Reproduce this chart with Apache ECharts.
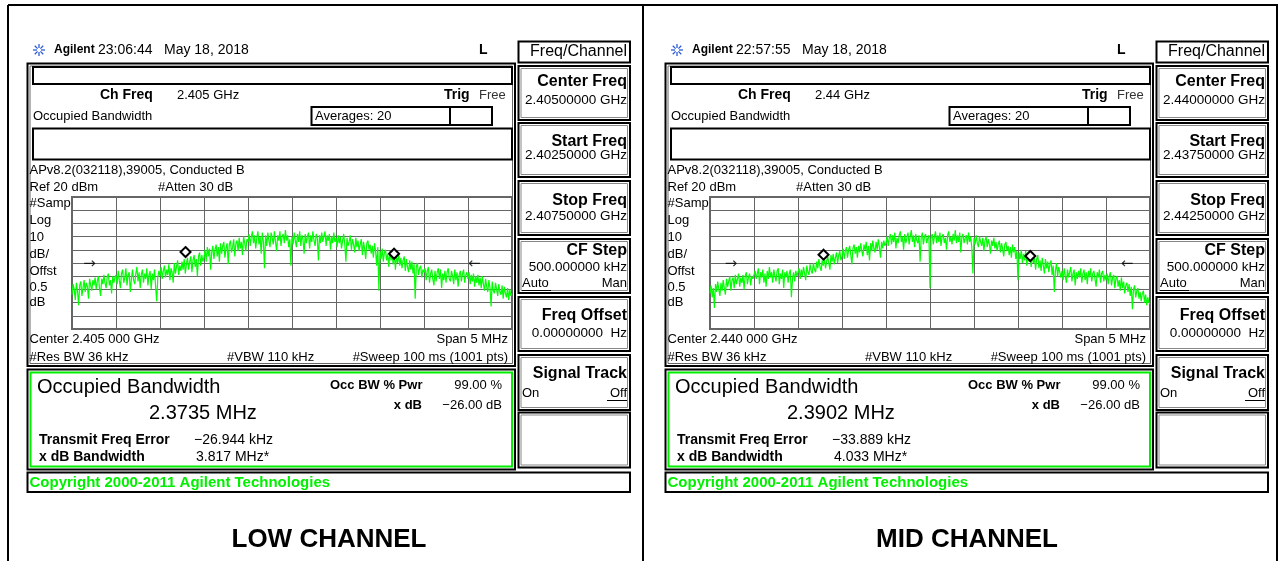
<!DOCTYPE html>
<html>
<head>
<meta charset="utf-8">
<title>Occupied Bandwidth - Low / Mid Channel</title>
<script src="https://cdn.jsdelivr.net/npm/echarts@6/dist/echarts.min.js"></script>
<style>
  html, body { margin: 0; padding: 0; background: #fff; }
  #main { width: 1283px; height: 561px; }
</style>
</head>
<body>
<div id="main"></div>
<script>
// offset from centre frequency in MHz, one point every 12.5 kHz over the 5 MHz span
const freqStart = -2.5;
const freqStep = 0.0125;

// trace levels in dBm (ref 20 dBm, 10 dB/div)
const lowTrace = [
  -54, -46, -50, -58, -45, -51, -62, -47, -44, -55,
  -49, -43, -52, -45, -48, -57, -42, -47, -51, -43,
  -47, -41, -50, -44, -40, -49, -55, -42, -46, -39,
  -45, -49, -41, -38, -47, -43, -53, -40, -45, -41,
  -39, -46, -36, -43, -49, -38, -35, -45, -41, -34,
  -47, -39, -37, -52, -42, -35, -43, -46, -38, -33,
  -44, -37, -49, -39, -35, -45, -38, -42, -34, -47,
  -39, -36, -50, -38, -43, -35, -48, -59, -41, -36,
  -40, -33, -42, -36, -32, -41, -35, -39, -31, -43,
  -34, -37, -45, -30, -38, -33, -28, -39, -32, -36,
  -29, -35, -27, -38, -31, -26, -35, -29, -25, -37,
  -28, -24, -33, -27, -40, -25, -22, -32, -24, -29,
  -26, -20, -29, -18, -25, -19, -35, -22, -17, -27,
  -20, -16, -25, -18, -29, -15, -23, -17, -14, -26,
  -19, -15, -31, -16, -13, -22, -18, -12, -25, -15,
  -13, -21, -11, -19, -14, -24, -10, -15, -21, -12,
  -14, -8, -17, -10, -6, -15, -9, -19, -11, -6,
  -16, -10, -23, -7, -14, -34, -9, -17, -7, -13,
  -18, -7, -11, -16, -6, -14, -21, -9, -13, -6,
  -17, -10, -8, -15, -5, -13, -9, -18, -12, -32,
  -10, -16, -7, -13, -18, -8, -14, -6, -17, -9,
  -12, -23, -8, -15, -10, -7, -19, -9, -14, -6,
  -13, -17, -8, -11, -28, -9, -15, -7, -14, -10,
  -6, -17, -9, -13, -8, -20, -10, -15, -7, -14,
  -11, -18, -9, -15, -10, -19, -13, -8, -16, -29,
  -11, -17, -14, -9, -20, -12, -16, -22, -11, -18,
  -13, -21, -16, -12, -24, -14, -19, -27, -15, -13,
  -20, -16, -23, -17, -26, -15, -21, -32, -18, -51,
  -21, -27, -19, -29, -22, -20, -28, -23, -33, -21,
  -28, -24, -31, -22, -35, -25, -30, -23, -32, -26,
  -34, -28, -25, -36, -27, -33, -37, -28, -35, -29,
  -38, -31, -57, -33, -30, -39, -34, -32, -41, -35,
  -37, -34, -43, -36, -33, -45, -38, -35, -42, -47,
  -36, -44, -37, -34, -42, -35, -49, -38, -43, -36,
  -45, -37, -34, -42, -44, -36, -40, -46, -35, -43,
  -37, -48, -39, -36, -44, -38, -35, -45, -39, -37,
  -42, -37, -46, -39, -44, -38, -48, -40, -45, -39,
  -47, -41, -49, -40, -46, -51, -42, -48, -52, -43,
  -49, -63, -44, -51, -53, -45, -50, -55, -46, -52,
  -54, -47, -57, -48, -53, -56, -49, -58, -50, -55,
  -53
];
const midTrace = [
  -53, -47, -56, -49, -64, -46, -52, -44, -50, -55,
  -45, -51, -43, -49, -54, -42, -48, -44, -40, -51,
  -43, -41, -49, -39, -46, -42, -38, -48, -41, -45,
  -39, -50, -40, -37, -46, -41, -38, -47, -40, -42,
  -43, -36, -42, -38, -34, -46, -37, -41, -35, -45,
  -38, -48, -36, -42, -33, -41, -37, -45, -35, -40,
  -44, -36, -34, -46, -38, -42, -35, -49, -37, -41,
  -36, -45, -38, -35, -56, -42, -37, -44, -36, -40,
  -39, -34, -42, -35, -40, -33, -38, -43, -32, -37,
  -39, -31, -36, -38, -30, -35, -37, -29, -34, -27,
  -33, -36, -28, -32, -26, -34, -29, -25, -30, -35,
  -24, -29, -23, -31, -26, -22, -30, -24, -21, -28,
  -25, -19, -27, -21, -18, -26, -20, -17, -24, -31,
  -19, -16, -23, -18, -26, -17, -22, -15, -21, -25,
  -16, -20, -14, -24, -17, -28, -15, -21, -13, -19,
  -22, -14, -20, -12, -18, -26, -14, -19, -13, -17,
  -15, -10, -17, -11, -8, -16, -9, -14, -7, -19,
  -11, -15, -9, -6, -14, -10, -20, -8, -15, -11,
  -7, -16, -10, -5, -14, -9, -18, -8, -13, -15,
  -9, -29, -11, -7, -16, -10, -8, -15, -11, -9,
  -49, -11, -8, -16, -10, -6, -15, -9, -14, -7,
  -17, -10, -8, -15, -11, -20, -9, -6, -14, -10,
  -16, -8, -13, -5, -15, -9, -14, -7, -22, -10,
  -8, -15, -11, -9, -16, -7, -14, -10, -18, -38,
  -11, -16, -9, -15, -18, -10, -14, -17, -11, -21,
  -13, -10, -18, -12, -16, -23, -13, -17, -11, -19,
  -14, -21, -16, -13, -22, -15, -19, -25, -16, -14,
  -21, -17, -24, -18, -26, -16, -22, -18, -27, -21,
  -43, -22, -27, -20, -30, -23, -28, -21, -32, -24,
  -29, -25, -33, -23, -30, -26, -35, -27, -24, -34,
  -28, -36, -26, -32, -38, -27, -34, -29, -37, -31,
  -28, -39, -32, -52, -36, -30, -40, -33, -37, -41,
  -36, -43, -34, -40, -45, -35, -41, -37, -33, -44,
  -38, -35, -47, -37, -42, -36, -41, -34, -45, -38,
  -35, -43, -37, -46, -36, -41, -34, -44, -38, -36,
  -42, -48, -37, -41, -35, -45, -38, -36, -44, -39,
  -43, -38, -46, -40, -37, -47, -41, -39, -49, -42,
  -40, -48, -43, -51, -41, -49, -44, -53, -47, -45,
  -52, -46, -55, -48, -65, -50, -47, -56, -51, -49,
  -57, -52, -59, -53, -51, -60, -54, -62, -56, -60,
  -61
];

// OBW edge markers and x dB arrows: [MHz offset, dBm]
const lowMarkers = [[-1.21, -21.7], [1.16, -23.0]];
const midMarkers = [[-1.21, -23.7], [1.14, -24.7]];
const lowArrows = [[-2.30, -30.5], [2.07, -30.5]];
const midArrows = [[-2.26, -30.5], [2.24, -30.5]];

const panels = [
  {
    ox: 0, time: '23:06:44', chFreq: '2.405 GHz',
    centerFreq: '2.40500000 GHz', startFreq: '2.40250000 GHz', stopFreq: '2.40750000 GHz',
    center: 'Center 2.405 000 GHz', obw: '2.3735 MHz', freqErr: '\u221226.944 kHz', xdbBw: '3.817 MHz*',
    title: 'LOW CHANNEL', trace: lowTrace, markers: lowMarkers, arrows: lowArrows
  },
  {
    ox: 638, time: '22:57:55', chFreq: '2.44 GHz',
    centerFreq: '2.44000000 GHz', startFreq: '2.43750000 GHz', stopFreq: '2.44250000 GHz',
    center: 'Center 2.440 000 GHz', obw: '2.3902 MHz', freqErr: '\u221233.889 kHz', xdbBw: '4.033 MHz*',
    title: 'MID CHANNEL', trace: midTrace, markers: midMarkers, arrows: midArrows
  }
];

const FONT = '"Liberation Sans", Arial, sans-serif';
const GREEN = '#00f000';

function txt(x, y, s, o) {
  o = o || {};
  return {
    type: 'text', x: x, y: y, z: 20, silent: true,
    style: {
      text: s,
      fill: o.color || '#000',
      font: (o.bold ? 'bold ' : '') + (o.size || 13) + 'px ' + FONT,
      align: o.align || 'left', textAlign: o.align || 'left',
      verticalAlign: 'middle', textVerticalAlign: 'middle'
    }
  };
}

function box(x, y, w, h, stroke, lw) {
  return {
    type: 'rect', z: 15, silent: true,
    shape: { x: x, y: y, width: w, height: h },
    style: { fill: 'none', stroke: stroke || '#000', lineWidth: lw || 2 }
  };
}

function seg(x1, y1, x2, y2, stroke, lw) {
  return {
    type: 'line', z: 15, silent: true,
    shape: { x1: x1, y1: y1, x2: x2, y2: y2 },
    style: { stroke: stroke || '#000', lineWidth: lw || 2 }
  };
}

function star(cx, cy) {
  const out = [];
  for (let k = 0; k < 8; k++) {
    const a = k * Math.PI / 4;
    out.push(seg(cx + Math.cos(a) * 2, cy + Math.sin(a) * 2, cx + Math.cos(a) * 6, cy + Math.sin(a) * 6, '#2a5bd7', 1.3));
  }
  return out;
}

function panelGraphics(p) {
  const o = p.ox;
  const g = [];
  // header line
  g.push(...star(o + 39, 50));
  g.push(txt(o + 54, 50, 'Agilent', { bold: true, size: 12 }));
  g.push(txt(o + 98, 50, p.time, { size: 14 }));
  g.push(txt(o + 164, 50, 'May 18, 2018', { size: 14 }));
  g.push(txt(o + 479, 50, 'L', { bold: true, size: 14 }));
  g.push(box(o + 518.5, 41.5, 111.5, 21));
  g.push(txt(o + 627, 52, 'Freq/Channel', { size: 16, align: 'right' }));

  // main display frame
  g.push(box(o + 27.5, 63.5, 487.5, 302.5, '#000', 2));
  g.push(box(o + 30, 66, 482.5, 297.5, '#666', 1));
  g.push(box(o + 33, 67, 479, 17));
  g.push(txt(o + 100, 95, 'Ch Freq', { bold: true, size: 14 }));
  g.push(txt(o + 177, 95, p.chFreq, { size: 13 }));
  g.push(txt(o + 444, 95, 'Trig', { bold: true, size: 14 }));
  g.push(txt(o + 479, 95, 'Free', { size: 13, color: '#333' }));
  g.push(txt(o + 33, 116, 'Occupied Bandwidth', { size: 13 }));
  g.push(box(o + 311.5, 107, 138.5, 18));
  g.push(box(o + 450, 107, 42, 18));
  g.push(txt(o + 315, 116, 'Averages: 20', { size: 13 }));
  g.push(box(o + 33, 128.5, 479, 31));
  g.push(txt(o + 29.5, 170, 'APv8.2(032118),39005, Conducted B', { size: 13 }));
  g.push(txt(o + 29.5, 187, 'Ref 20 dBm', { size: 13 }));
  g.push(txt(o + 158, 187, '#Atten 30 dB', { size: 13 }));
  const side = ['#Samp', 'Log', '10', 'dB/', 'Offst', '0.5', 'dB'];
  const sideY = [203, 220, 237, 254, 271, 287, 302];
  side.forEach((s, i) => g.push(txt(o + 29.5, sideY[i], s, { size: 13 })));
  g.push(txt(o + 29.5, 339.5, p.center, { size: 13 }));
  g.push(txt(o + 508, 339.5, 'Span 5 MHz', { size: 13, align: 'right' }));
  g.push(txt(o + 29.5, 357.5, '#Res BW 36 kHz', { size: 13 }));
  g.push(txt(o + 227, 357.5, '#VBW 110 kHz', { size: 13 }));
  g.push(txt(o + 508, 357.5, '#Sweep 100 ms (1001 pts)', { size: 13, align: 'right' }));

  // softkeys: top, bottom, label, value, label y, value y
  const keys = [
    [66, 120, 'Center Freq', p.centerFreq, 82, 100],
    [123, 177, 'Start Freq', p.startFreq, 142, 155],
    [181, 235, 'Stop Freq', p.stopFreq, 201, 216],
    [239, 293, 'CF Step', '500.000000 kHz', 251, 267],
    [297, 351, 'Freq Offset', '0.00000000  Hz', 316, 333],
    [355, 410, 'Signal Track', '', 374, 393],
    [412.5, 467.5, '', '', 0, 0]
  ];
  keys.forEach(k => {
    g.push(box(o + 518.5, k[0], 111.5, k[1] - k[0], '#000', 2));
    g.push(box(o + 521, k[0] + 2.5, 106.5, k[1] - k[0] - 5, '#888', 1));
    if (k[2]) g.push(txt(o + 627, k[4], k[2], { bold: true, size: 16, align: 'right' }));
    if (k[3]) g.push(txt(o + 627, k[5], k[3], { size: 13.5, align: 'right' }));
  });
  g.push(txt(o + 522, 283, 'Auto', { size: 13 }));
  g.push(seg(o + 522, 290.5, o + 551, 290.5, '#000', 1));
  g.push(txt(o + 627, 283, 'Man', { size: 13, align: 'right' }));
  g.push(txt(o + 522, 393, 'On', { size: 13 }));
  g.push(txt(o + 627, 393, 'Off', { size: 13, align: 'right' }));
  g.push(seg(o + 607, 400.5, o + 627, 400.5, '#000', 1));

  // results box
  g.push(box(o + 27.5, 369.5, 487.5, 100, '#000', 2));
  g.push(box(o + 30.5, 372.5, 481.5, 94, GREEN, 2));
  g.push(txt(o + 37, 387, 'Occupied Bandwidth', { size: 20 }));
  g.push(txt(o + 149, 413, p.obw, { size: 20 }));
  g.push(txt(o + 330, 385, 'Occ BW % Pwr', { bold: true, size: 13 }));
  g.push(txt(o + 502, 385, '99.00 %', { size: 13, align: 'right' }));
  g.push(txt(o + 422, 405, 'x dB', { bold: true, size: 13, align: 'right' }));
  g.push(txt(o + 502, 405, '\u221226.00 dB', { size: 13, align: 'right' }));
  g.push(txt(o + 39, 440, 'Transmit Freq Error', { bold: true, size: 14 }));
  g.push(txt(o + 194, 440, p.freqErr, { size: 14 }));
  g.push(txt(o + 39, 457, 'x dB Bandwidth', { bold: true, size: 14 }));
  g.push(txt(o + 196, 457, p.xdbBw, { size: 14 }));

  g.push(box(o + 27.5, 472.5, 602.5, 19.5));
  g.push(txt(o + 29.5, 482.5, 'Copyright 2000-2011 Agilent Technologies', { bold: true, size: 15, color: GREEN }));

  g.push({
    type: 'text', x: o + 329, y: 540, z: 20, silent: true,
    style: { text: p.title, fill: '#000', font: 'bold 26px ' + FONT, align: 'center', textAlign: 'center', verticalAlign: 'middle', textVerticalAlign: 'middle' }
  });
  return g;
}

const chart = echarts.init(document.getElementById('main'), null, { renderer: 'canvas' });

const graphics = [
  seg(8, 5, 1278, 5, '#000', 2),
  seg(8, 5, 8, 561, '#000', 2),
  seg(643, 5, 643, 561, '#000', 2),
  seg(1277, 5, 1277, 561, '#000', 2)
];
panels.forEach(p => graphics.push(...panelGraphics(p)));

const grids = [], xAxes = [], yAxes = [], series = [];
panels.forEach((p, i) => {
  grids.push({ left: 72 + p.ox, top: 197, width: 440, height: 132, show: true, borderColor: '#666', borderWidth: 2, backgroundColor: 'transparent' });
  xAxes.push({
    type: 'value', gridIndex: i, min: -2.5, max: 2.5, interval: 0.5,
    axisLine: { show: false }, axisTick: { show: false }, axisLabel: { show: false },
    splitLine: { show: true, lineStyle: { color: '#666', width: 1 } }
  });
  yAxes.push({
    type: 'value', gridIndex: i, min: -80, max: 20, interval: 10,
    axisLine: { show: false }, axisTick: { show: false }, axisLabel: { show: false },
    splitLine: { show: true, lineStyle: { color: '#666', width: 1 } }
  });
  series.push({
    type: 'line', xAxisIndex: i, yAxisIndex: i, showSymbol: false, z: 3,
    lineStyle: { color: '#00ff00', width: 1.2 },
    data: p.trace.map((v, k) => [freqStart + k * freqStep, v])
  });
  series.push({
    type: 'scatter', xAxisIndex: i, yAxisIndex: i, z: 6,
    symbol: 'diamond', symbolSize: 10,
    itemStyle: { color: '#fff', borderColor: '#000', borderWidth: 2, opacity: 1 },
    data: p.markers
  });
  series.push({
    type: 'scatter', xAxisIndex: i, yAxisIndex: i, z: 6,
    symbolSize: 1, itemStyle: { color: 'transparent' },
    label: {
      show: true, position: 'inside', color: '#000', fontSize: 15, fontFamily: 'DejaVu Sans',
      formatter: q => q.dataIndex === 0 ? '\u2192' : '\u2190'
    },
    data: p.arrows
  });
});

chart.setOption({
  backgroundColor: '#fff',
  animation: false,
  tooltip: { show: false },
  grid: grids,
  xAxis: xAxes,
  yAxis: yAxes,
  series: series,
  graphic: { elements: graphics }
});
</script>
</body>
</html>
